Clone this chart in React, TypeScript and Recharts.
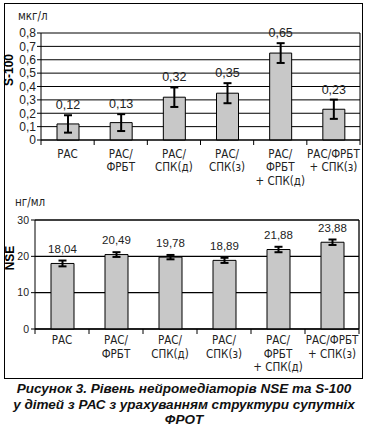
import React from 'react';
import { BarChart, Bar, XAxis, YAxis, CartesianGrid, ErrorBar, LabelList } from 'recharts';

const categories = ['РАС', 'РАС/\nФРБТ', 'РАС/\nСПК(д)', 'РАС/\nСПК(з)', 'РАС/\nФРБТ\n+ СПК(д)', 'РАС/ФРБТ\n+ СПК(з)'];

const s100Values = [0.12, 0.13, 0.32, 0.35, 0.65, 0.23];
const s100Errors = [0.065, 0.063, 0.073, 0.075, 0.074, 0.072];
const s100Ticks = [0, 0.1, 0.2, 0.3, 0.4, 0.5, 0.6, 0.7, 0.8];

const nseValues = [18.04, 20.49, 19.78, 18.89, 21.88, 23.88];
const nseErrors = [0.8, 0.65, 0.6, 0.7, 0.75, 0.75];
const nseTicks = [0, 10, 20, 30];

const s100Data = categories.map((name, i) => ({ name, value: s100Values[i], err: s100Errors[i] }));
const nseData = categories.map((name, i) => ({ name, value: nseValues[i], err: nseErrors[i] }));

const plainFont = '"Liberation Sans", Arial, sans-serif';
const narrowFont = '"Liberation Sans Narrow", "Arial Narrow", "DejaVu Sans Condensed", sans-serif';

const comma = (v: number) => (v === 0 ? '0' : String(Number(v.toFixed(2))).replace('.', ','));

function CatTick(props: any) {
  const { x, y, payload, band, firstDy } = props;
  const idx = props.index ?? payload.index ?? 0;
  const lines = String(payload.value).split('\n');
  return (
    <g>
      <line x1={x - band / 2} x2={x - band / 2} y1={y} y2={y + 5} stroke="#000" strokeWidth={1} />
      {idx === categories.length - 1 && (
        <line x1={x + band / 2} x2={x + band / 2} y1={y} y2={y + 5} stroke="#000" strokeWidth={1} />
      )}
      <text x={x} y={y + firstDy} textAnchor="middle" fontSize={11.5} fontFamily={narrowFont} fill="#222">
        {lines.map((l, i) => (
          <tspan key={i} x={x} dy={i === 0 ? 0 : 13.5}>{l}</tspan>
        ))}
      </text>
    </g>
  );
}

function makeValueLabel(errors: number[], fontSize: number, gap: number) {
  return (props: any) => {
    const { x, y, width, height, value, index } = props;
    const errPx = value ? (errors[index] * height) / value : 0;
    return (
      <text x={x + width / 2} y={y - errPx - gap} textAnchor="middle" fontSize={fontSize} fontFamily={plainFont} fill="#222">
        {Number(value).toFixed(2).replace('.', ',')}
      </text>
    );
  };
}

export default function App() {
  const topBand = 319 / categories.length;
  const botBand = 324 / categories.length;
  return (
    <div style={{ position: 'absolute', left: 0, top: 0, width: 368, height: 430, background: '#fff', fontFamily: plainFont }}>
      <div style={{ position: 'absolute', left: 4, top: 3, width: 357, height: 374, border: '1px solid #000' }} />

      <div style={{ position: 'absolute', left: 0, top: 0 }}>
        <BarChart width={368} height={190} data={s100Data} margin={{ top: 33, right: 8, bottom: 0, left: 0 }}>
          <CartesianGrid
            stroke="#000"
            strokeWidth={1}
            verticalCoordinatesGenerator={({ offset }: any) => [offset.left + offset.width]}
          />
          <XAxis
            dataKey="name"
            height={50}
            interval={0}
            axisLine={{ stroke: '#000' }}
            tickLine={false}
            tickSize={0}
            tickMargin={0}
            tick={(p: any) => <CatTick {...p} band={topBand} firstDy={17.5} />}
          />
          <YAxis
            width={41}
            domain={[0, 0.8]}
            ticks={s100Ticks}
            interval={0}
            tickFormatter={comma}
            axisLine={{ stroke: '#000' }}
            tickLine={{ stroke: '#000' }}
            tickSize={4}
            tickMargin={1}
            tick={{ fontSize: 12, fill: '#222', fontFamily: plainFont }}
          />
          <Bar dataKey="value" fill="#c8c8c8" stroke="#000" strokeWidth={1} barSize={22} isAnimationActive={false}>
            <ErrorBar dataKey="err" width={4} strokeWidth={2} stroke="#000" direction="y" isAnimationActive={false} />
            <LabelList dataKey="value" content={makeValueLabel(s100Errors, 12.5, 6)} />
          </Bar>
        </BarChart>
      </div>

      <div style={{ position: 'absolute', left: 0, top: 185 }}>
        <BarChart width={368} height={190} data={nseData} margin={{ top: 35, right: 9, bottom: 0, left: 0 }}>
          <CartesianGrid
            stroke="#000"
            strokeWidth={1.3}
            verticalCoordinatesGenerator={({ offset }: any) => [offset.left + offset.width]}
          />
          <XAxis
            dataKey="name"
            height={46}
            interval={0}
            axisLine={{ stroke: '#000' }}
            tickLine={false}
            tickSize={0}
            tickMargin={0}
            tick={(p: any) => <CatTick {...p} band={botBand} firstDy={15} />}
          />
          <YAxis
            width={35}
            domain={[0, 30]}
            ticks={nseTicks}
            interval={0}
            axisLine={{ stroke: '#000' }}
            tickLine={{ stroke: '#000' }}
            tickSize={4}
            tickMargin={2}
            tick={{ fontSize: 10.5, fill: '#222', fontFamily: plainFont }}
          />
          <Bar dataKey="value" fill="#c8c8c8" stroke="#000" strokeWidth={1} barSize={23} isAnimationActive={false}>
            <ErrorBar dataKey="err" width={4} strokeWidth={2} stroke="#000" direction="y" isAnimationActive={false} />
            <LabelList dataKey="value" content={makeValueLabel(nseErrors, 11.5, 8)} />
          </Bar>
        </BarChart>
      </div>

      <div style={{ position: 'absolute', left: 18, top: 9, fontSize: 11.5, fontFamily: narrowFont, color: '#222' }}>мкг/л</div>
      <div style={{ position: 'absolute', left: 15, top: 195, fontSize: 11.5, fontFamily: narrowFont, color: '#222' }}>нг/мл</div>

      <div style={{ position: 'absolute', left: 9, top: 70, transform: 'translate(-50%, -50%) rotate(-90deg)', fontSize: 12, fontWeight: 'bold', whiteSpace: 'nowrap' }}>S-100</div>
      <div style={{ position: 'absolute', left: 10, top: 258, transform: 'translate(-50%, -50%) rotate(-90deg)', fontSize: 12, fontWeight: 'bold', whiteSpace: 'nowrap' }}>NSE</div>

      <div style={{ position: 'absolute', left: 0, top: 381, width: 368, textAlign: 'center', fontSize: 13.5, lineHeight: '15.5px', fontWeight: 'bold', fontStyle: 'italic', color: '#111', fontFamily: plainFont }}>
        Рисунок 3. Рівень нейромедіаторів NSE та S-100<br />
        у дітей з РАС з урахуванням структури супутніх<br />
        ФРОТ
      </div>
    </div>
  );
}
